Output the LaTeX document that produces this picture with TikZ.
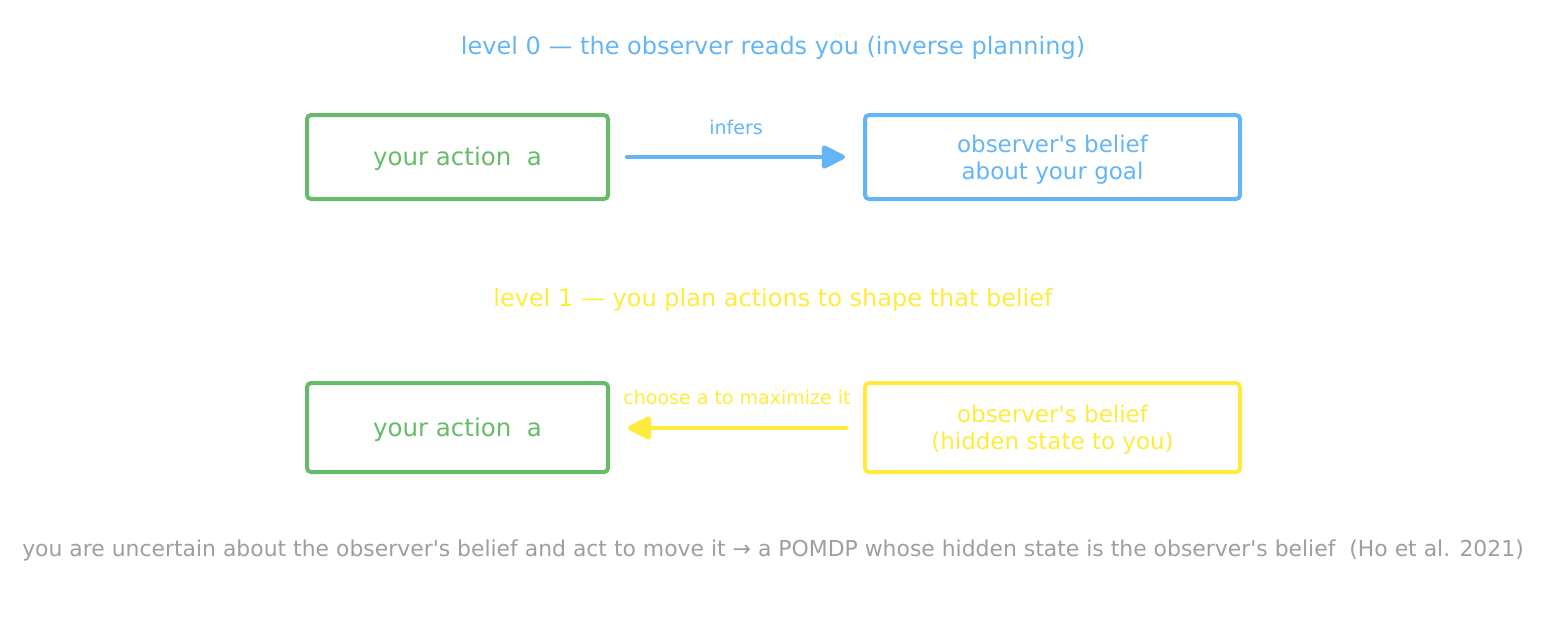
\documentclass[tikz,border=0pt]{standalone}
\usepackage{fontspec}
\setmainfont{DejaVu Sans}
\usetikzlibrary{arrows.meta}
\definecolor{cgreen}{HTML}{66BB6A}
\definecolor{cblue}{HTML}{64B5F6}
\definecolor{cyellow}{HTML}{FFEB3B}
\definecolor{cgray}{HTML}{9E9E9E}
\newcommand\apos{\textquotesingle}
\begin{document}
\begin{tikzpicture}[x=1pt,y=-1pt,
  boxstyle/.style={draw,line width=4pt,rounded corners=4pt,inner sep=0pt},
  boxtext/.style={font=\fontsize{23}{27}\selectfont,align=center,yshift=-2.5pt},
  actiontext/.style={font=\fontsize{24.5}{28}\selectfont,yshift=-2pt},
  titletext/.style={font=\fontsize{24}{28}\selectfont},
  notetext/.style={font=\fontsize{21.9}{25}\selectfont},
  labeltext/.style={font=\fontsize{19}{23}\selectfont},
  arrowstyle/.style={line width=4.5pt,line cap=round,-{Triangle[length=26pt,width=25pt,line join=round]}}]
\useasboundingbox (0,0) rectangle (1547,622);
\node[titletext,text=cblue] (t0) at (773,48) {level 0 — the observer reads you (inverse planning)};
\node[boxstyle,draw=cgreen,minimum width=301pt,minimum height=84pt] (a0) at (457.5,157) {};
\node[actiontext,text=cgreen] (a0t) at (a0.center) {your action\ \ a};
\node[boxstyle,draw=cblue,minimum width=375pt,minimum height=84pt] (b0) at (1052.5,157) {};
\node[boxtext,text=cblue] (b0t) at (b0.center) {observer\apos s belief\\about your goal};
\coordinate (s0) at (627,157);
\coordinate (e0) at (845,157);
\draw[arrowstyle,cblue] (s0) -- (e0) node[midway,above=17pt,labeltext,text=cblue] (l0) {infers};
\node[titletext,text=cyellow] (t1) at (773,300) {level 1 — you plan actions to shape that belief};
\node[boxstyle,draw=cgreen,minimum width=301pt,minimum height=89pt] (a1) at (457.5,427.5) {};
\node[actiontext,text=cgreen] (a1t) at (a1.center) {your action\ \ a};
\node[boxstyle,draw=cyellow,minimum width=375pt,minimum height=89pt] (b1) at (1052.5,427.5) {};
\node[boxtext,text=cyellow] (b1t) at (b1.center) {observer\apos s belief\\(hidden state to you)};
\coordinate (s1) at (846,428);
\coordinate (e1) at (628,428);
\draw[arrowstyle,cyellow] (s1) -- (e1) node[midway,above=18pt,labeltext,text=cyellow] (l1) {choose a to maximize it};
\node[notetext,text=cgray] (n) at (773,550) {you are uncertain about the observer\apos s belief and act to move it → a POMDP whose hidden state is the observer\apos s belief\ \ (Ho et al. 2021)};
\end{tikzpicture}
\end{document}
